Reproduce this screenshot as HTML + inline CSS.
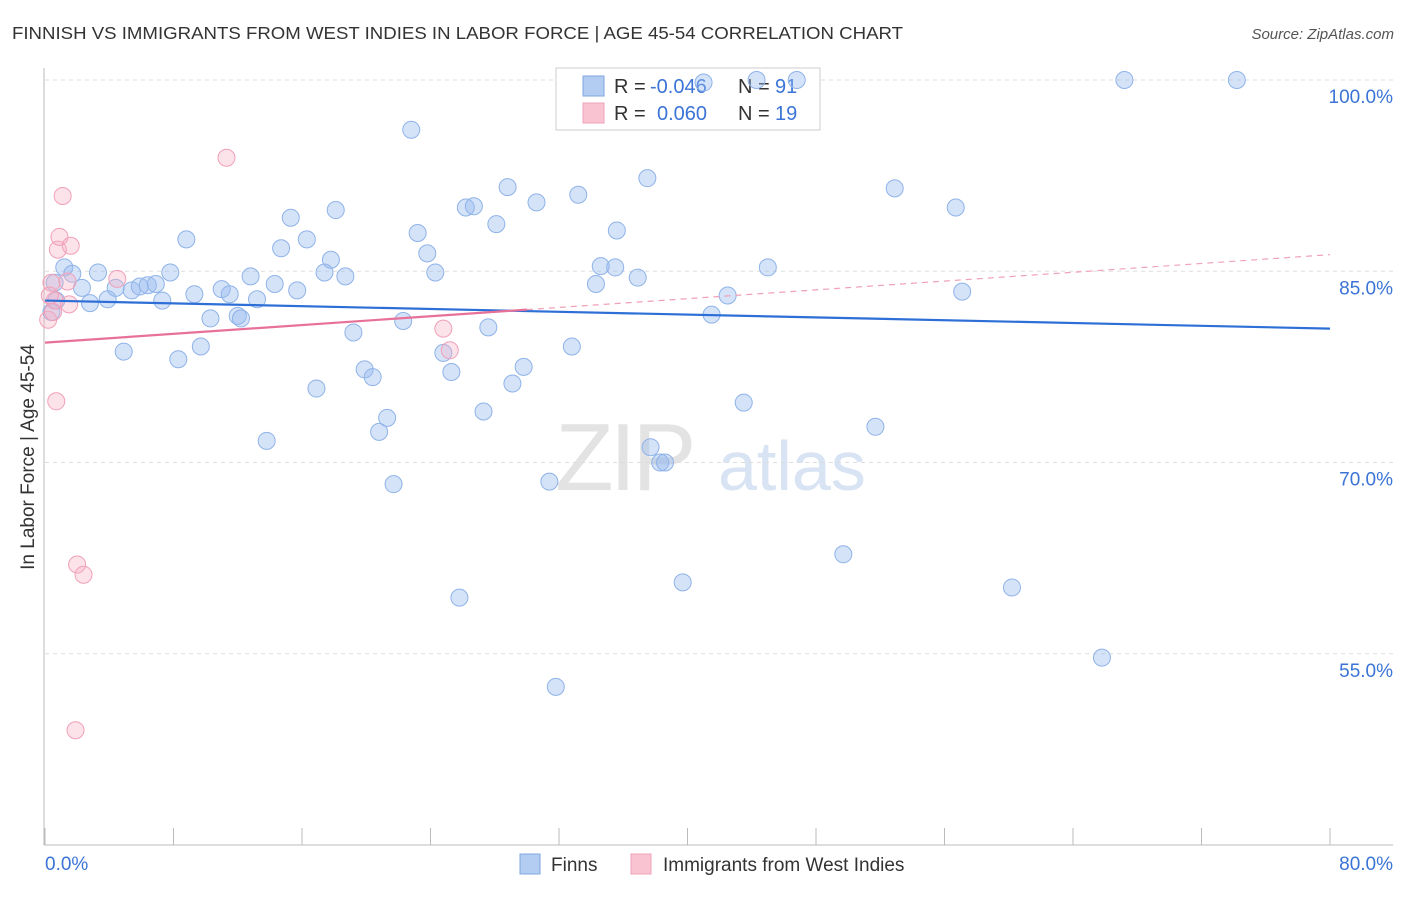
<!DOCTYPE html>
<html><head><meta charset="utf-8"><style>
body{margin:0;background:#fff;width:1406px;height:892px;overflow:hidden;font-family:"Liberation Sans",sans-serif}
svg text{font-family:"Liberation Sans",sans-serif}
</style></head><body>
<svg id="chart" width="1406" height="892">
<text x="12" y="39" font-size="17.5" fill="#333" textLength="891" lengthAdjust="spacingAndGlyphs">FINNISH VS IMMIGRANTS FROM WEST INDIES IN LABOR FORCE | AGE 45-54 CORRELATION CHART</text>
<text x="1394" y="39" font-size="15" fill="#555" font-style="italic" text-anchor="end">Source: ZipAtlas.com</text>
<g>
<text x="555" y="490" font-size="96" fill="#e3e3e3" font-family="Liberation Serif, serif" letter-spacing="-4">ZIP</text>
<text x="718" y="490" font-size="70" fill="#d8e3f3">atlas</text>
</g>
<g id="grid"></g>
<g id="axes"></g>
<g>
<rect x="556" y="68" width="264" height="62" fill="#fff" stroke="#ccc"/>
<rect x="583" y="76" width="21" height="20" fill="#b3cdf2" stroke="#7fa6e0"/>
<text x="614" y="93" font-size="20" fill="#333">R =</text>
<text x="650" y="93" font-size="20" fill="#3b74d6">-0.046</text>
<text x="738" y="93" font-size="20" fill="#333">N =</text>
<text x="775" y="93" font-size="20" fill="#3b74d6">91</text>
<rect x="583" y="103" width="21" height="20" fill="#f9c3d2" stroke="#eea0b8"/>
<text x="614" y="120" font-size="20" fill="#333">R =</text>
<text x="657" y="120" font-size="20" fill="#3b74d6">0.060</text>
<text x="738" y="120" font-size="20" fill="#333">N =</text>
<text x="775" y="120" font-size="20" fill="#3b74d6">19</text>
</g>
<g id="marks"></g>
<text transform="translate(34,457) rotate(-90)" font-size="19" fill="#333" text-anchor="middle">In Labor Force | Age 45-54</text>
<text x="45" y="870" font-size="19" fill="#3b74d6">0.0%</text>
<text x="1393" y="870" font-size="19" fill="#3b74d6" text-anchor="end">80.0%</text>
<g>
<rect x="520" y="854" width="20" height="20" fill="#b3cdf2" stroke="#7fa6e0"/>
<text x="551" y="871" font-size="19" fill="#333">Finns</text>
<rect x="631" y="854" width="20" height="20" fill="#f9c3d2" stroke="#eea0b8"/>
<text x="663" y="871" font-size="19" fill="#333">Immigrants from West Indies</text>
</g>
</svg>
<script>
const yTicks=[100,85,70,55];
const yTickLabels=["100.0%","85.0%","70.0%","55.0%"];
const xTicks=[0,8,16,24,32,40,48,56,64,72,80];
const finnsX=[0.6,0.7,0.4,1.2,1.7,2.3,2.8,3.3,3.9,4.4,4.9,5.4,5.9,6.4,6.9,7.3,7.8,8.3,8.8,9.3,9.7,10.3,11.0,11.5,12.0,12.2,12.8,13.2,13.8,14.3,14.7,15.3,15.7,16.3,16.9,17.4,17.8,18.1,18.7,19.2,19.9,20.4,20.8,21.3,21.7,22.3,22.8,23.2,23.8,24.3,24.8,25.3,25.8,26.2,26.7,27.3,27.6,28.1,28.8,29.1,29.8,30.6,31.4,31.8,32.8,33.2,34.3,34.6,35.5,35.6,36.9,37.5,37.7,38.3,38.6,39.7,41.0,41.5,42.5,43.5,44.3,45.0,46.8,49.7,51.7,52.9,56.7,57.1,60.2,65.8,67.2,74.2];
const finnsY=[84.1,82.7,81.8,85.3,84.8,83.7,82.5,84.9,82.8,83.7,78.7,83.5,83.8,83.9,84.0,82.7,84.9,78.1,87.5,83.2,79.1,81.3,83.6,83.2,81.5,81.3,84.6,82.8,71.7,84.0,86.8,89.2,83.5,87.5,75.8,84.9,85.9,89.8,84.6,80.2,77.3,76.7,72.4,73.5,68.3,81.1,96.1,88.0,86.4,84.9,78.6,77.1,59.4,90.0,90.1,74.0,80.6,88.7,91.6,76.2,77.5,90.4,68.5,52.4,79.1,91.0,84.0,85.4,85.3,88.2,84.5,92.3,71.2,70.0,70.0,60.6,99.8,81.6,83.1,74.7,100,85.3,100,62.8,72.8,91.5,90.0,83.4,60.2,54.7,100,100];
const wiX=[0.2,0.4,0.6,0.7,0.8,0.9,1.1,1.4,1.5,1.6,2.0,2.4,1.9,4.5,11.3,24.8,25.2,0.3,0.5];
const wiY=[81.2,84.1,82.7,74.8,86.7,87.7,90.9,84.2,82.4,87.0,62.0,61.2,49.0,84.4,93.9,80.5,78.8,83.1,81.8];
const finnsTrend=[82.7,80.5];
const wiTrend=[79.4,86.3];
const wiSolidEnd=30;

const NS="http://www.w3.org/2000/svg";
const X=v=>45+v*(1285/80);
const Y=v=>80+(100-v)*12.75;
function mk(tag,attrs,parent){const e=document.createElementNS(NS,tag);for(const k in attrs)e.setAttribute(k,attrs[k]);parent.appendChild(e);return e;}
const grid=document.getElementById('grid'),axes=document.getElementById('axes'),marks=document.getElementById('marks');
yTicks.forEach((t,i)=>{
  const l=mk('line',{x1:45,x2:1393,y1:Y(t),y2:Y(t),stroke:'#ddd','stroke-dasharray':'4,4'},grid);
  
  
  const tx=mk('text',{x:1393,y:Y(t)+23,'font-size':19,fill:'#3b74d6','text-anchor':'end'},grid);
  tx.textContent=yTickLabels[i];
  
  
});
const ya=mk('line',{x1:44,x2:44,y1:68,y2:845,stroke:'#bbb'},axes);


const xa=mk('line',{x1:44,x2:1393,y1:845,y2:845,stroke:'#bbb'},axes);


xTicks.forEach(t=>{
  const l=mk('line',{x1:X(t),x2:X(t),y1:828,y2:845,stroke:'#bbb'},axes);
  
  
});
finnsX.forEach((x,i)=>{
  const c=mk('circle',{cx:X(x),cy:Y(finnsY[i]),r:8.5,fill:'rgba(150,185,240,0.4)',stroke:'#8fb3e8','stroke-width':1},marks);
  
  
});
wiX.forEach((x,i)=>{
  const c=mk('circle',{cx:X(x),cy:Y(wiY[i]),r:8.5,fill:'rgba(245,175,195,0.35)',stroke:'#f0a0b8','stroke-width':1},marks);
  
  
});
const ft=mk('line',{x1:X(0),y1:Y(finnsTrend[0]),x2:X(80),y2:Y(finnsTrend[1]),stroke:'#2d6fd6','stroke-width':2.2},marks);


const wy=x=>wiTrend[0]+(wiTrend[1]-wiTrend[0])*x/80;
const ws=mk('line',{x1:X(0),y1:Y(wy(0)),x2:X(wiSolidEnd),y2:Y(wy(wiSolidEnd)),stroke:'#e8719a','stroke-width':2.2},marks);


const wd=mk('line',{x1:X(wiSolidEnd),y1:Y(wy(wiSolidEnd)),x2:X(80),y2:Y(wy(80)),stroke:'#f0a0b8','stroke-width':1.2,'stroke-dasharray':'6,5'},marks);


</script>
</body></html>
